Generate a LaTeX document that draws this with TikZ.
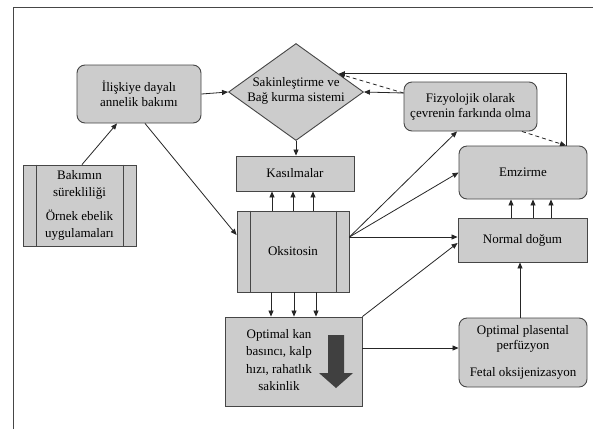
\documentclass[tikz,border=0pt]{standalone}
\usepackage{fontspec}
\setmainfont{Liberation Serif}
\usetikzlibrary{arrows.meta,shapes.geometric,calc}
\definecolor{boxgray}{RGB}{204,204,204}
\definecolor{edgegray}{RGB}{70,70,70}
\definecolor{darkarrow}{RGB}{64,64,64}
\begin{document}
\begin{tikzpicture}[x=1pt,y=-1pt,
  every node/.style={font=\fontsize{13}{15}\selectfont, align=center},
  box/.style={draw=edgegray, fill=boxgray, line width=0.9pt, inner sep=0pt},
  rbox/.style={box, rounded corners=8pt},
  arr/.style={-{Triangle[length=6pt,width=5pt]}, line width=0.8pt, draw=black!85},
  dasharr/.style={arr, dash pattern=on 4pt off 3pt},
  sideline/.style={draw=edgegray, line width=0.9pt}]
\useasboundingbox (0,0) rectangle (593,429);
\fill[white] (0,0) rectangle (593,429);
\draw[line width=1pt, edgegray] (13,429) -- (13,7) -- (593,7);

% nodes
\node[rbox, minimum width=124pt, minimum height=58pt] (ilis) at (139,94) {İlişkiye dayalı\\annelik bakımı};
\node[box, diamond, minimum width=135pt, minimum height=97pt] (diam) at (296,92) {};
\node (diamtxt) at (296,91) {Sakinleştirme ve\\Bağ kurma sistemi};
\node[box, minimum width=118pt, minimum height=35pt] (kas) at (295,173.5) {Kasılmalar};
\node[box, minimum width=112pt, minimum height=81pt] (oks) at (293,251.5) {Oksitosin};
\draw[sideline] ([xshift=14pt]oks.north west) -- ([xshift=14pt]oks.south west)
                ([xshift=-13pt]oks.north east) -- ([xshift=-13pt]oks.south east);
\node[box, minimum width=137pt, minimum height=89pt] (kan) at (293.5,361.5) {};
\node[font=\fontsize{13}{17.5}\selectfont] (kantxt) at (279,360) {Optimal kan\\basıncı, kalp\\hızı, rahatlık\\sakinlik};
\fill[darkarrow] (328,335) -- (344,335) -- (344,373) -- (353,373) -- (336,388) -- (319,373) -- (328,373) -- cycle;
\node[rbox, minimum width=133pt, minimum height=49pt] (fiz) at (470.5,106.5) {Fizyolojik olarak\\çevrenin farkında olma};
\node[rbox, minimum width=128pt, minimum height=53pt] (emz) at (523,172.5) {Emzirme};
\node[box, minimum width=129pt, minimum height=44pt] (nd) at (522.5,240) {Normal doğum};
\node[rbox, minimum width=128pt, minimum height=69pt] (plas) at (523,352.5) {Optimal plasental\\perfüzyon\\[12pt]Fetal oksijenizasyon};
\node[box, minimum width=113pt, minimum height=81pt, font=\fontsize{13}{17}\selectfont] (bak) at (79.5,205.5) {Bakımın\\sürekliliği\\[7pt]Örnek ebelik\\uygulamaları};
\draw[sideline] ([xshift=14pt]bak.north west) -- ([xshift=14pt]bak.south west)
                ([xshift=-13pt]bak.north east) -- ([xshift=-13pt]bak.south east);

% connectors
\draw[arr] (ilis.east) -- (diam.west);
\draw[arr] ([xshift=2.5pt]bak.north) -- ([xshift=-22pt]ilis.south);
\draw[arr] ([xshift=6pt]ilis.south) -- ([yshift=16.5pt]oks.west);
\draw[arr] (diam.south) -- (diam.south |- kas.north);
\foreach \dx in {-21,0,20}
  \draw[arr] ([xshift=\dx pt]oks.north) -- ([xshift=\dx pt]oks.north |- kas.south);
\foreach \dx in {-22,1,23}
  \draw[arr] ([xshift=\dx pt]oks.south) -- ([xshift=\dx pt]oks.south |- kan.north);
\coordinate (ox) at ([yshift=14.5pt]oks.east);
\draw[arr] (ox) -- ([xshift=-13.5pt]fiz.south);
\draw[arr] (ox) -- (emz.west);
\draw[arr] (ox) -- (ox -| nd.west);
\draw[arr] (kan.north east) -- ([yshift=-3pt]nd.west);
\draw[arr] ([yshift=13.5pt]kan.east) -- ([yshift=13.5pt]kan.east -| plas.west);
\draw[arr] ([xshift=-3pt]plas.north) -- ([xshift=-3pt]plas.north |- nd.south);
\foreach \dx in {-11.5,10.5,28.5}
  \draw[arr] ([xshift=\dx pt]nd.north) -- ([xshift=\dx pt]nd.north |- emz.south);
\coordinate (fx) at ([yshift=13.5pt]fiz.west);
\draw[arr] (fx) -- (diam.east);
\coordinate (dtip) at (diam.23);
\draw[dasharr] (fx) -- (dtip);
\draw[arr] ([xshift=43pt]emz.north) |- (dtip);
\draw[dasharr] ([xshift=51.5pt]fiz.south) -- ([xshift=43pt]emz.north);
\end{tikzpicture}
\end{document}
